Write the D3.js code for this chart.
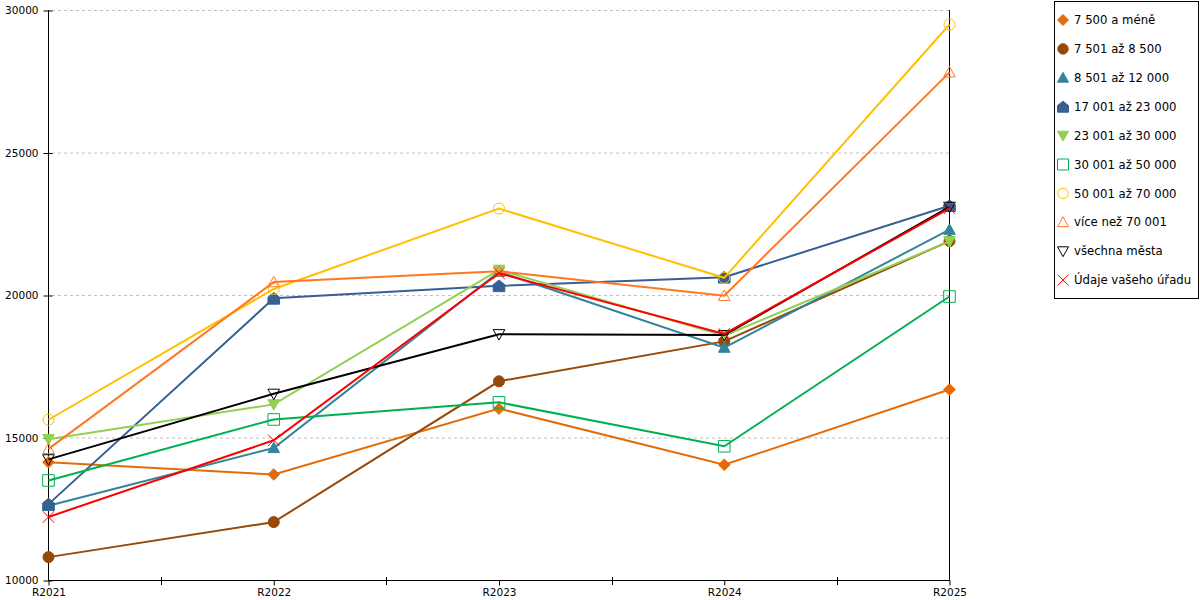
<!DOCTYPE html>
<html>
<head>
<meta charset="utf-8">
<script src="https://cdn.jsdelivr.net/npm/d3@7"></script>
<style>
  body { margin: 0; background: #fff; }
  svg, svg text { font-family: "DejaVu Sans", sans-serif; }
</style>
</head>
<body>
<div id="chart"></div>
<script>
// categories on the x axis
var years = ["R2021", "R2022", "R2023", "R2024", "R2025"];
var yTicks = [10000, 15000, 20000, 25000, 30000];

// one array per series
var s7500   = [14150, 13720, 16030, 14060, 16700];
var s8500   = [10820, 12050, 16990, 18390, 21910];
var s12000  = [12620, 14650, 20830, 18170, 22310];
var s23000  = [12680, 19900, 20340, 20640, 23150];
var s30000  = [14960, 16180, 20900, 18590, 21900];
var s50000  = [13510, 15650, 16250, 14710, 19965];
var s70000  = [15640, 20230, 23050, 20620, 29510];
var s70001  = [14620, 20470, 20850, 19990, 27830];
var sAll    = [14250, 16550, 18640, 18610, 23110];
var sOffice = [12230, 14920, 20780, 18650, 23060];

var series = [
  {name: "7 500 a méně",        values: s7500,   color: "#e36c0a", marker: "diamond", filled: true},
  {name: "7 501 až 8 500",      values: s8500,   color: "#984807", marker: "circle",  filled: true},
  {name: "8 501 až 12 000",     values: s12000,  color: "#31849b", marker: "triangle", filled: true},
  {name: "17 001 až 23 000",    values: s23000,  color: "#366092", marker: "house",   filled: true},
  {name: "23 001 až 30 000",    values: s30000,  color: "#92d050", marker: "triDown", filled: true},
  {name: "30 001 až 50 000",    values: s50000,  color: "#00b050", marker: "square",  filled: false},
  {name: "50 001 až 70 000",    values: s70000,  color: "#ffc000", marker: "circle",  filled: false},
  {name: "více než 70 001",     values: s70001,  color: "#ff7722", marker: "triangle", filled: false},
  {name: "všechna města",       values: sAll,    color: "#000000", marker: "triDown", filled: false},
  {name: "Údaje vašeho úřadu",  values: sOffice, color: "#ff0000", marker: "x",       filled: false}
];

var width = 1200, height = 600;
var svg = d3.select("#chart").append("svg")
    .attr("width", width).attr("height", height);

var x = d3.scalePoint().domain(years).range([48.5, 949.5]);
var y = d3.scaleLinear().domain([10000, 30000]).range([580.5, 10.5]);

// marker shapes, r is half size
function markerPath(type, r){
  var p = d3.path();
  if (type == "diamond"){
    p.moveTo(0,-r); p.lineTo(r,0); p.lineTo(0,r); p.lineTo(-r,0); p.closePath();
  } else if (type == "circle"){
    p.arc(0,0,r*0.95,0,2*Math.PI);
  } else if (type == "triangle"){
    p.moveTo(0,-r); p.lineTo(r,r*0.8); p.lineTo(-r,r*0.8); p.closePath();
  } else if (type == "triDown"){
    p.moveTo(-r,-r*0.8); p.lineTo(r,-r*0.8); p.lineTo(0,r); p.closePath();
  } else if (type == "square"){
    p.rect(-r,-r,2*r,2*r);
  } else if (type == "house"){
    p.moveTo(0,-r); p.lineTo(r,-r*0.2); p.lineTo(r,r); p.lineTo(-r,r); p.lineTo(-r,-r*0.2); p.closePath();
  } else if (type == "x"){
    p.moveTo(-r,-r); p.lineTo(r,r); p.moveTo(r,-r); p.lineTo(-r,r);
  }
  return p.toString();
}

// grid lines
svg.append("g").selectAll("line")
  .data(yTicks.slice(1))
  .enter().append("line")
    .attr("x1", 52).attr("x2", 949)
    .attr("y1", function(d){ return y(d); })
    .attr("y2", function(d){ return y(d); })
    .attr("stroke", "#c0c0c0")
    .attr("stroke-dasharray", "3,3");

// y axis
var yAxis = svg.append("g")
    .attr("transform", "translate(48.5,0)")
    .call(d3.axisLeft(y).tickValues(yTicks).tickSize(0).tickPadding(10).tickFormat(d3.format("d")));
yAxis.attr("font-family", "DejaVu Sans");
yAxis.select(".domain").remove();
yAxis.selectAll("text").attr("font-size", "10.5px").attr("fill", "#000");
yAxis.selectAll(".tick").append("line")
    .attr("x1", -5).attr("x2", 4).attr("stroke", "#000");
svg.append("line").attr("x1", 48.5).attr("x2", 48.5).attr("y1", 10).attr("y2", 581).attr("stroke", "#000");
svg.append("line").attr("x1", 949.5).attr("x2", 949.5).attr("y1", 10).attr("y2", 581).attr("stroke", "#000");

// x axis
var xAxis = svg.append("g")
    .attr("transform", "translate(0,580.5)")
    .call(d3.axisBottom(x).tickSize(5).tickPadding(3));
xAxis.attr("font-family", "DejaVu Sans");
xAxis.select(".domain").attr("d", "M48.5,0H949.5").attr("stroke", "#000");
xAxis.selectAll("line").attr("stroke", "#000");
xAxis.selectAll("text").attr("font-size", "10.5px").attr("fill", "#000");
var step = x.step();
svg.append("g").selectAll("line")
  .data(years.slice(0, -1))
  .enter().append("line")
    .attr("x1", function(d){ return Math.round(x(d) + step/2) + 0.5; })
    .attr("x2", function(d){ return Math.round(x(d) + step/2) + 0.5; })
    .attr("y1", 577).attr("y2", 585)
    .attr("stroke", "#000");

// series lines and markers
var line = d3.line()
    .x(function(d, i){ return x(years[i]); })
    .y(function(d){ return y(d); });

var sg = svg.append("g").selectAll("g")
  .data(series)
  .enter().append("g");

sg.append("path")
    .attr("d", function(s){ return line(s.values); })
    .attr("fill", "none")
    .attr("stroke", function(s){ return s.color; })
    .attr("stroke-width", 2);

sg.each(function(s){
  d3.select(this).selectAll(".pt")
    .data(s.values)
    .enter().append("path")
      .attr("class", "pt")
      .attr("transform", function(d, i){ return "translate(" + x(years[i]) + "," + y(d) + ")"; })
      .attr("d", markerPath(s.marker, 5.8))
      .attr("fill", s.filled ? s.color : "none")
      .attr("stroke", s.color)
      .attr("stroke-width", 1);
});

// legend
var legend = svg.append("g").attr("transform", "translate(1054,1)");
legend.append("rect")
    .attr("x", 0.5).attr("y", 0.5)
    .attr("width", 144).attr("height", 297)
    .attr("fill", "#fff").attr("stroke", "#000");

var li = legend.selectAll(".item")
  .data(series)
  .enter().append("g")
    .attr("class", "item")
    .attr("transform", function(d, i){ return "translate(0," + (19 + i * 28.9) + ")"; });
li.append("path")
    .attr("transform", "translate(9,0)")
    .attr("d", function(s){ return markerPath(s.marker, 5.5); })
    .attr("fill", function(s){ return s.filled ? s.color : "none"; })
    .attr("stroke", function(s){ return s.color; });
li.append("text")
    .attr("x", 20).attr("dy", "0.35em")
    .attr("font-size", "11.7px")
    .text(function(s){ return s.name; });
</script>
</body>
</html>
